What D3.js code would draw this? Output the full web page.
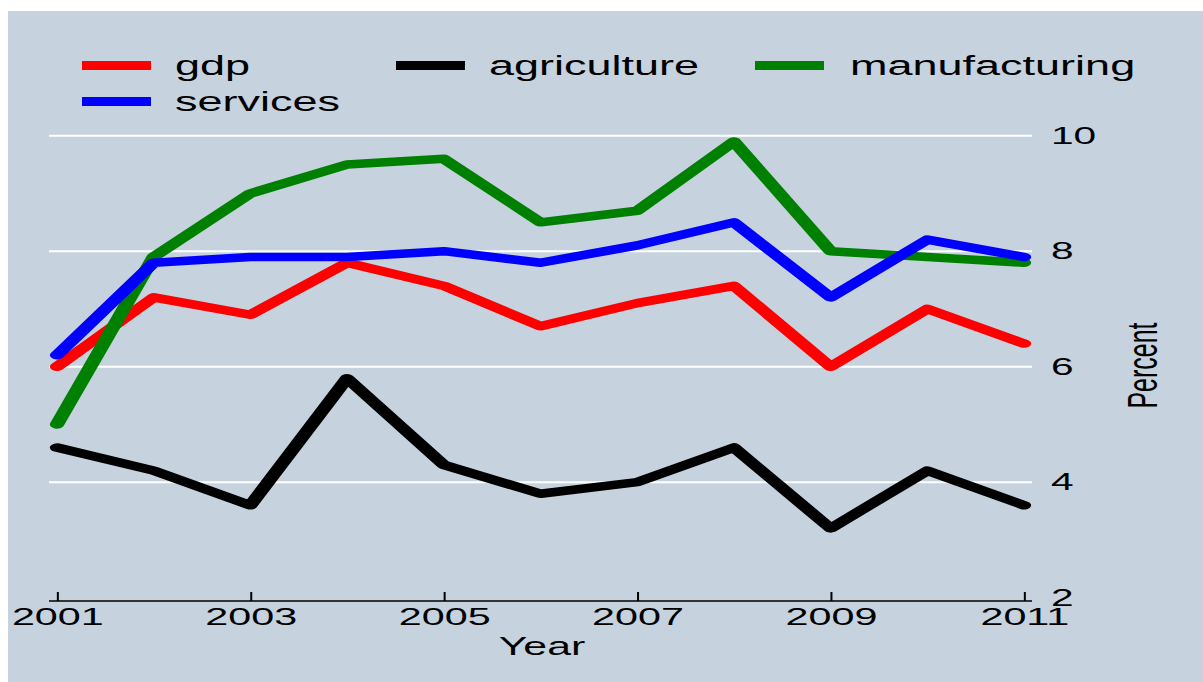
<!DOCTYPE html>
<html>
<head>
<meta charset="utf-8">
<script src="https://cdn.jsdelivr.net/npm/d3@7"></script>
<style>
  html, body { margin: 0; padding: 0; background: #ffffff; }
  svg { display: block; font-family: "Liberation Sans", Arial, Helvetica, sans-serif; }
</style>
</head>
<body>
<script>
// ---- data ----
const years = [2001, 2002, 2003, 2004, 2005, 2006, 2007, 2008, 2009, 2010, 2011];
const gdp           = [6.0, 7.2, 6.9, 7.8, 7.4, 6.7, 7.1, 7.4, 6.0, 7.0, 6.4];
const agriculture   = [4.6, 4.2, 3.6, 5.8, 4.3, 3.8, 4.0, 4.6, 3.2, 4.2, 3.6];
const manufacturing = [5.0, 7.9, 9.0, 9.5, 9.6, 8.5, 8.7, 9.9, 8.0, 7.9, 7.8];
const services      = [6.2, 7.8, 7.9, 7.9, 8.0, 7.8, 8.1, 8.5, 7.2, 8.2, 7.9];
const seriesNames   = ["gdp", "agriculture", "manufacturing", "services"];
const seriesColors  = ["#ff0000", "#000000", "#008000", "#0000ff"];
const xTickValues   = [2001, 2003, 2005, 2007, 2009, 2011];
const yTickValues   = [2, 4, 6, 8, 10];
const gridValues    = [4, 6, 8, 10];
const xTitle = "Year";
const yTitle = "Percent";

const W = 1203, H = 682;
const S = 1.68; // horizontal stretch of the whole graphic
const px = v => v / S;

const svg = d3.select("body").append("svg").attr("width", W).attr("height", H);
svg.append("rect").attr("x", 0).attr("y", 0).attr("width", W).attr("height", H).attr("fill", "#ffffff");
svg.append("rect").attr("x", 8).attr("y", 11).attr("width", W - 8).attr("height", H - 11).attr("fill", "#c6d3df");

const g = svg.append("g").attr("transform", `scale(${S},1)`);

const x = d3.scaleLinear().domain([2001, 2011]).range([px(57), px(1024)]);
const y = d3.scaleLinear().domain([2, 10]).range([597.7, 135.7]);

// gridlines
g.append("g").selectAll("line").data(gridValues).join("line")
  .attr("x1", px(49)).attr("x2", px(1032))
  .attr("y1", d => y(d)).attr("y2", d => y(d))
  .attr("stroke", "#ffffff").attr("stroke-width", 2);

// x axis
const xAxis = g.append("g").attr("transform", "translate(0,601)")
  .call(d3.axisBottom(x).tickValues(xTickValues).tickFormat(d3.format("d")).tickSize(-9).tickPadding(7));
xAxis.select(".domain").remove();
xAxis.selectAll(".tick line").attr("stroke", "#000").attr("stroke-width", 1.2);
xAxis.selectAll(".tick text").attr("font-size", 24.6).attr("fill", "#000")
  .attr("font-family", "Liberation Sans, Arial, sans-serif");
xAxis.append("line").attr("x1", px(49)).attr("x2", px(1032)).attr("y1", 0).attr("y2", 0)
  .attr("stroke", "#000").attr("stroke-width", 1.6);

// y axis (right)
const yAxis = g.append("g").attr("transform", `translate(${px(1051)},0)`)
  .call(d3.axisRight(y).tickValues(yTickValues).tickSize(0).tickPadding(0).tickFormat(d3.format("d")));
yAxis.select(".domain").remove();
yAxis.selectAll(".tick text").attr("font-size", 24.2).attr("fill", "#000")
  .attr("font-family", "Liberation Sans, Arial, sans-serif");

// axis titles
g.append("text").attr("x", px(542)).attr("y", 655).attr("text-anchor", "middle")
  .attr("font-size", 25.5).attr("fill", "#000").text(xTitle);
g.append("text").attr("transform", `translate(${px(1157)},365.5) rotate(-90)`)
  .attr("text-anchor", "middle").attr("font-size", 25).attr("fill", "#000").text(yTitle);

// lines
const allSeries = [gdp, agriculture, manufacturing, services];
const lineGen = d3.line().x((d, i) => x(years[i])).y(d => y(d));
g.append("g").selectAll("path").data(allSeries).join("path")
  .attr("d", d => lineGen(d))
  .attr("fill", "none")
  .attr("stroke", (d, i) => seriesColors[i])
  .attr("stroke-width", 8.5)
  .attr("stroke-linejoin", "round")
  .attr("stroke-linecap", "round");

// legend
const legendPos = [
  { lx: 82, ly: 65.5, tx: 175, ty: 75 },
  { lx: 396, ly: 65.5, tx: 489, ty: 75 },
  { lx: 755, ly: 65.5, tx: 850, ty: 75 },
  { lx: 82, ly: 101.5, tx: 175, ty: 111 }
];
const leg = g.append("g").selectAll("g").data(seriesNames).join("g");
leg.append("line")
  .attr("x1", (d, i) => px(legendPos[i].lx)).attr("x2", (d, i) => px(legendPos[i].lx + 69))
  .attr("y1", (d, i) => legendPos[i].ly).attr("y2", (d, i) => legendPos[i].ly)
  .attr("stroke", (d, i) => seriesColors[i]).attr("stroke-width", 9);
leg.append("text")
  .attr("x", (d, i) => px(legendPos[i].tx)).attr("y", (d, i) => legendPos[i].ty)
  .attr("font-size", 26.8).attr("fill", "#000").text(d => d);
</script>
</body>
</html>
